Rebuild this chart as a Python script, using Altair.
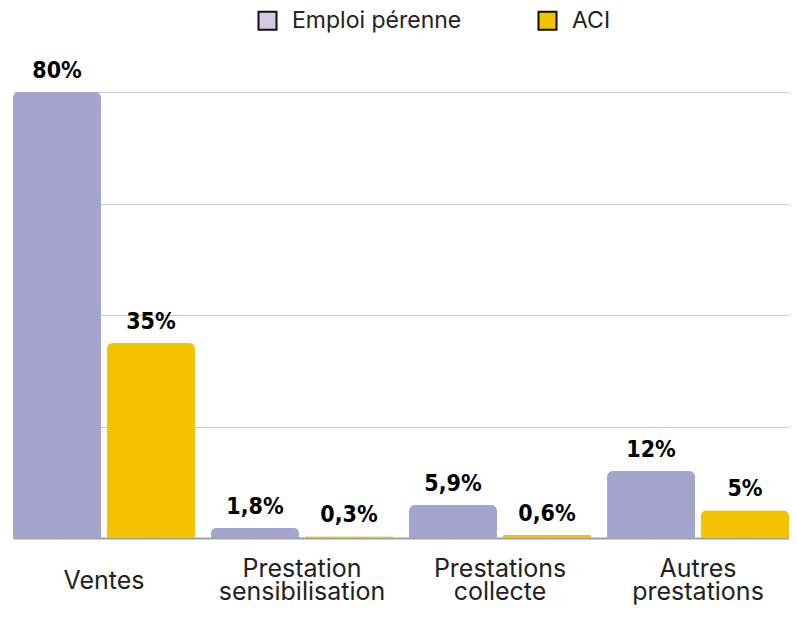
import altair as alt
import pandas as pd

categories = ["Ventes", "Prestation\nsensibilisation", "Prestations\ncollecte", "Autres\nprestations"]
series = ["Emploi pérenne", "ACI"]
emploi = [80, 1.8, 5.9, 12]
aci = [35, 0.3, 0.6, 5]
emploi_labels = ["80%", "1,8%", "5,9%", "12%"]
aci_labels = ["35%", "0,3%", "0,6%", "5%"]
bar_colors = ["#A5A4CE", "#F3C300"]
legend_colors = ["#D4C9E9", "#F3C300"]

rows = []
for i, c in enumerate(categories):
    rows.append({"cat": c, "serie": series[0], "value": emploi[i], "label": emploi_labels[i]})
    rows.append({"cat": c, "serie": series[1], "value": aci[i], "label": aci_labels[i]})
df = pd.DataFrame(rows)

x = alt.X("cat:N", sort=categories, title=None,
          scale=alt.Scale(paddingInner=0.081, paddingOuter=0),
          axis=alt.Axis(labelAngle=0, labelAlign="center", labelExpr="split(datum.label, '\\n')",
                        labelFont="Inter", labelFontSize=25, labelColor="#222222",
                        labelLineHeight=23, labelBaseline="middle",
                        labelPadding={"condition": {"test": "indexof(datum.label, '\\n') < 0", "value": 42},
                                      "value": 30},
                        ticks=False, tickSize=0, domainColor="#A0A0A0", domainWidth=2,
                        labelLimit=400))
xo = alt.XOffset("serie:N", sort=series, scale=alt.Scale(paddingInner=0.0636, paddingOuter=0))
y = alt.Y("value:Q", title=None, scale=alt.Scale(domain=[0, 80], nice=False),
          axis=alt.Axis(values=[0, 20, 40, 60, 80], labels=False, ticks=False, domain=False,
                        grid=True, gridColor="#C8C8C8", gridWidth=1))

# tiny squares hidden under the bars, only there to carry the legend colours
legend_layer = alt.Chart(df).mark_square(size=1, opacity=1).encode(
    x=x, xOffset=xo,
    y=alt.datum(0),
    color=alt.Color("serie:N", sort=series, title=None,
                    scale=alt.Scale(domain=series, range=legend_colors),
                    legend=alt.Legend(orient="none", legendX=243, legendY=-83, direction="horizontal",
                                      symbolType="square", symbolSize=324, symbolStrokeColor="#111111",
                                      symbolStrokeWidth=2, symbolOpacity=1,
                                      labelFont="Inter", labelFontSize=23, labelColor="#222222",
                                      labelOffset=13, columnPadding=72, padding=0, labelLimit=300)),
)

bars = alt.Chart(df).mark_bar(cornerRadiusTopLeft=6, cornerRadiusTopRight=6).encode(
    x=x, xOffset=xo, y=y,
    fill=alt.Fill("serie:N", sort=series, scale=alt.Scale(domain=series, range=bar_colors), legend=None),
)

text = alt.Chart(df).mark_text(baseline="bottom", dy=-9, font="DejaVu Sans Condensed",
                               fontWeight="bold", fontSize=23, color="#000000").encode(
    x=x, xOffset=xo, y=y,
    text="label:N")

chart = alt.layer(legend_layer, bars, text).properties(
    width=776, height=446,
    autosize=alt.AutoSizeParams(type="none"),
    padding={"left": 5, "top": 84, "right": 0, "bottom": 68},
).configure_view(stroke=None)

chart.save("out.html", embed_options={"renderer": "svg", "actions": False})
